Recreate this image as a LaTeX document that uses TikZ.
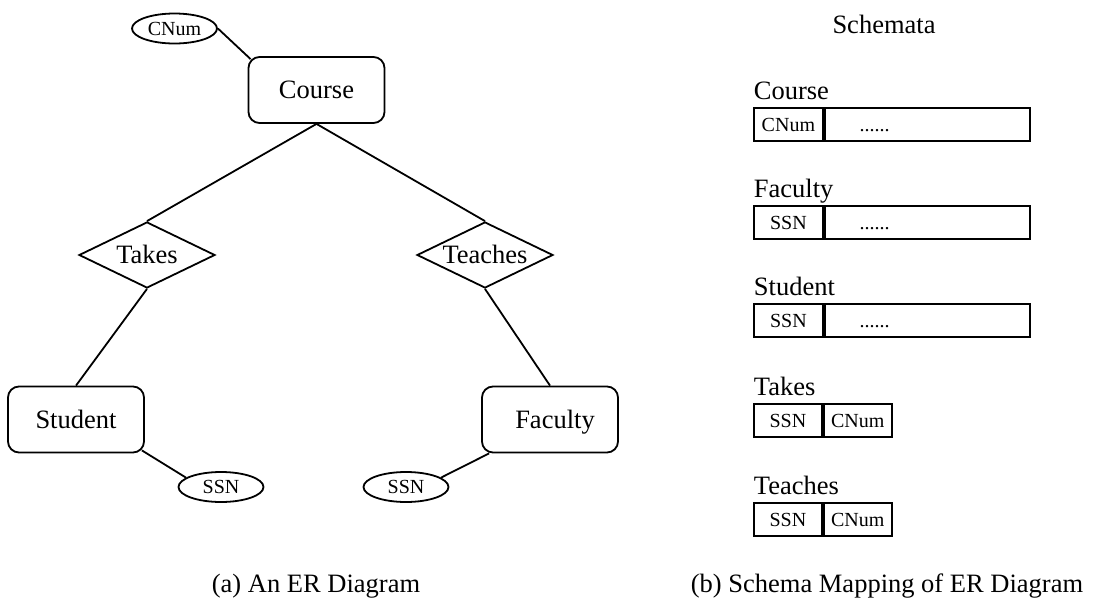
\documentclass[tikz,border=0pt]{standalone}
\usepackage{fontspec}
\setmainfont{Liberation Serif}
\usetikzlibrary{shapes.geometric}
\begin{document}
\begin{tikzpicture}[x=1pt,y=-1pt,line width=1.8pt,
  bigtext/.style={font=\fontsize{26.5}{30}\selectfont,text height=17.5pt,text depth=0pt},
  smalltext/.style={font=\fontsize{20}{24}\selectfont,text height=13.5pt,text depth=0pt},
  entity/.style={draw,rounded corners=11pt,minimum width=136pt,minimum height=66pt,inner sep=0pt,bigtext},
  relation/.style={draw,diamond,minimum width=136pt,minimum height=66pt,inner sep=0pt},
  attr/.style={draw,ellipse,minimum width=85pt,minimum height=30pt,inner sep=0pt,smalltext},
  keycell/.style={draw,anchor=north west,minimum width=69pt,minimum height=33pt,inner sep=0pt,smalltext},
  paircell/.style={draw,anchor=north west,minimum width=68pt,minimum height=33pt,inner sep=0pt,smalltext},
  restcell/.style={draw,anchor=west,text width=205pt,minimum height=33pt,inner xsep=0pt,inner ysep=0pt,align=left,smalltext},
  tablelabel/.style={anchor=base west,inner sep=0pt,font=\fontsize{26.5}{30}\selectfont},
  caption/.style={anchor=base,inner sep=0pt,font=\fontsize{26.5}{30}\selectfont}
]
\useasboundingbox (0,0) rectangle (1101,603);

% ER diagram: entities, relationships and key attributes
\node[entity] (course) at (316.5,90) {Course};
\node[attr] (cnum) at (174.5,28.5) {CNum};
\node[relation] (takes) at (147,255) {};
\node[bigtext] (takes-text) at (takes.center) {Takes};
\node[relation] (teaches) at (485,255) {};
\node[bigtext] (teaches-text) at (teaches.center) {Teaches};
\node[entity] (student) at (76,419.5) {Student};
\node[entity] (faculty) at (550,419.5) {\hspace*{10pt}Faculty};
\node[attr] (ssn1) at (221,487) {SSN};
\node[attr] (ssn2) at (406,487) {SSN};

\draw (cnum.east) -- ([shift={(3,3)}]course.north west);
\draw (course.south) -- (takes.north);
\draw (course.south) -- (teaches.north);
\draw (takes.south) -- (student.north);
\draw (teaches.south) -- (faculty.north);
\draw ([shift={(-3,-3)}]student.south east) -- (ssn1.165);
\draw (ssn2.15) -- ([xshift=8pt]faculty.south west);

% Relational schemata
\node[anchor=base,inner sep=0pt,font=\fontsize{26.5}{30}\selectfont] (schemata) at (884,33) {Schemata};

\node[tablelabel] (lab-course) at (753,99) {Course};
\node[keycell] (course-key) at (753,107) {CNum};
\node[restcell] (course-rest) at (course-key.east) {\hspace*{35pt}......};

\node[tablelabel] (lab-faculty) at (753,197) {Faculty};
\node[keycell] (faculty-key) at (753,205) {SSN};
\node[restcell] (faculty-rest) at (faculty-key.east) {\hspace*{35pt}......};

\node[tablelabel] (lab-student) at (753,295) {Student};
\node[keycell] (student-key) at (753,303) {SSN};
\node[restcell] (student-rest) at (student-key.east) {\hspace*{35pt}......};

\node[tablelabel] (lab-takes) at (753,395) {Takes};
\node[paircell] (takes-ssn) at (753,403) {SSN};
\node[paircell] (takes-cnum) at (takes-ssn.north east) {CNum};

\node[tablelabel] (lab-teaches) at (753,494) {Teaches};
\node[paircell] (teaches-ssn) at (753,502) {SSN};
\node[paircell] (teaches-cnum) at (teaches-ssn.north east) {CNum};

% Sub-figure captions
\node[caption] (cap-a) at (316,592) {(a) An ER Diagram};
\node[caption] (cap-b) at (887,592) {(b) Schema Mapping of ER Diagram};
\end{tikzpicture}
\end{document}
